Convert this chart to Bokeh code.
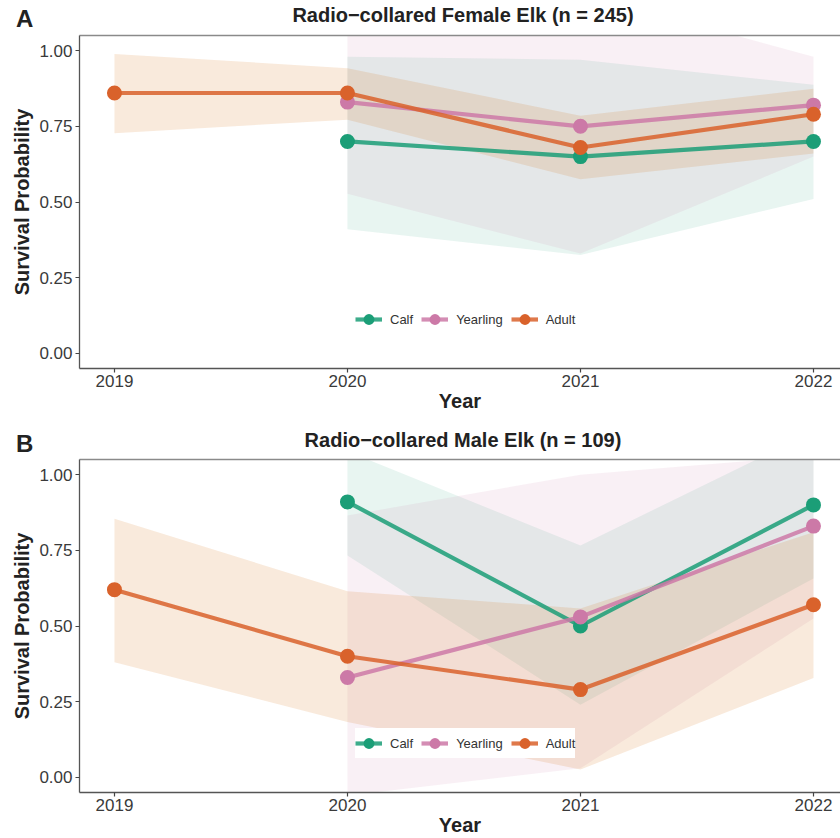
from bokeh.plotting import figure
from bokeh.models import (Range1d, FixedTicker, LinearAxis, Legend,
                          LegendItem, NumeralTickFormatter, Div)
from bokeh.layouts import column
from bokeh.embed import file_html
from bokeh.resources import INLINE

# ---------------- data ----------------
years = [2019, 2020, 2021, 2022]
y_ticks = [0.0, 0.25, 0.5, 0.75, 1.0]
age_classes = ["Calf", "Yearling", "Adult"]
line_colors = ["#1B9E77", "#CC79A7", "#D9622B"]
fill_colors = ["#1B9E77", "#CC79A7", "#D86A08"]
fill_alphas = [0.10, 0.11, 0.14]

# Panel A: females
f_calf_years = [2020, 2021, 2022]
f_calf_est = [0.70, 0.65, 0.70]
f_calf_lo = [0.41, 0.325, 0.51]
f_calf_hi = [0.98, 0.97, 0.887]

f_yearling_years = [2020, 2021, 2022]
f_yearling_est = [0.83, 0.75, 0.82]
f_yearling_lo = [0.527, 0.33, 0.65]
f_yearling_hi = [1.13, 1.19, 0.98]

f_adult_years = [2019, 2020, 2021, 2022]
f_adult_est = [0.86, 0.86, 0.68, 0.79]
f_adult_lo = [0.727, 0.772, 0.575, 0.66]
f_adult_hi = [0.989, 0.942, 0.785, 0.874]

# Panel B: males
m_calf_years = [2020, 2021, 2022]
m_calf_est = [0.91, 0.50, 0.90]
m_calf_lo = [0.733, 0.24, 0.657]
m_calf_hi = [1.077, 0.766, 1.142]

m_yearling_years = [2020, 2021, 2022]
m_yearling_est = [0.33, 0.53, 0.83]
m_yearling_lo = [-0.06, 0.03, 0.525]
m_yearling_hi = [0.865, 1.0, 1.062]

m_adult_years = [2019, 2020, 2021, 2022]
m_adult_est = [0.62, 0.40, 0.29, 0.57]
m_adult_lo = [0.38, 0.183, 0.026, 0.328]
m_adult_hi = [0.854, 0.615, 0.558, 0.81]

FONT = "Liberation Sans"
TEXT_DARK = "#222222"
TICK_TEXT = "#3a3a3a"


def heading(letter, title):
    html = (
        '<div style="position:relative;width:840px;height:30px;'
        "font-family:'Liberation Sans',Arial,sans-serif;font-weight:bold;"
        'color:%s;">'
        '<span style="position:absolute;left:16px;top:7px;font-size:24px;'
        'line-height:24px;">%s</span>'
        '<span style="position:absolute;left:163px;top:5px;width:600px;'
        'text-align:center;font-size:20px;line-height:20px;'
        'white-space:nowrap;">%s</span>'
        '</div>'
    ) % (TEXT_DARK, letter, title)
    return Div(text=html, width=840, height=30, margin=0)


def make_panel(groups, height, top_border, bottom_border):
    x0, x1 = 2018.85, 2022.116
    p = figure(width=840, height=height, output_backend="svg",
               toolbar_location=None, x_range=Range1d(x0, x1),
               y_range=Range1d(-0.05, 1.05),
               min_border_left=79, min_border_right=0,
               min_border_top=top_border, min_border_bottom=bottom_border)
    p.outline_line_color = None
    p.background_fill_color = "white"
    p.border_fill_color = "white"
    p.xgrid.visible = False
    p.ygrid.visible = False

    for ax in (p.xaxis[0], p.yaxis[0]):
        ax.axis_line_color = "#555555"
        ax.axis_line_width = 1.3
        ax.major_tick_line_color = "#444444"
        ax.major_tick_line_width = 1.2
        ax.major_tick_in = 0
        ax.major_tick_out = 4
        ax.minor_tick_line_color = None
        ax.major_label_text_font = FONT
        ax.major_label_text_font_size = "17px"
        ax.major_label_text_color = TICK_TEXT
        ax.axis_label_text_font = FONT
        ax.axis_label_text_font_size = "20px"
        ax.axis_label_text_font_style = "bold"
        ax.axis_label_text_color = TEXT_DARK
    p.xaxis.ticker = FixedTicker(ticks=years)
    p.xaxis.major_label_standoff = 2
    p.xaxis.axis_label = "Year"
    p.xaxis.axis_label_standoff = 0
    p.yaxis.ticker = FixedTicker(ticks=y_ticks)
    p.yaxis.formatter = NumeralTickFormatter(format="0.00")
    p.yaxis.major_label_standoff = 3
    p.yaxis.axis_label = "Survival Probability"
    p.yaxis.axis_label_standoff = 3

    top_ax = LinearAxis(ticker=FixedTicker(ticks=[]))
    top_ax.axis_line_color = "#8a8a8a"
    top_ax.axis_line_width = 1.6
    top_ax.major_tick_line_color = None
    top_ax.minor_tick_line_color = None
    top_ax.major_tick_out = 0
    top_ax.major_tick_in = 0
    top_ax.minor_tick_out = 0
    top_ax.minor_tick_in = 0
    top_ax.major_label_standoff = 0
    p.add_layout(top_ax, "above")

    # confidence ribbons
    for (yrs, est, lo, hi), fc, fa in zip(groups, fill_colors, fill_alphas):
        p.varea(x=yrs, y1=lo, y2=hi, fill_color=fc, fill_alpha=fa)

    line_rs = []
    for (yrs, est, lo, hi), lc in zip(groups, line_colors):
        line_rs.append(p.line(x=yrs, y=est, line_color=lc, line_width=4.2,
                              line_alpha=0.85))
    pt_rs = []
    for (yrs, est, lo, hi), lc in zip(groups, line_colors):
        pt_rs.append(p.scatter(x=yrs, y=est, size=15, marker="circle",
                               fill_color=lc, line_color=lc, line_width=0))

    items = [LegendItem(label=name, renderers=[lr, sr])
             for name, lr, sr in zip(age_classes, line_rs, pt_rs)]
    legend = Legend(items=items, orientation="horizontal", location=(276, 34),
                    glyph_width=27, glyph_height=30, label_standoff=8,
                    spacing=8, padding=15, margin=0,
                    label_text_font=FONT, label_text_font_size="13px",
                    label_text_color="#333333",
                    background_fill_color="white", background_fill_alpha=1.0,
                    border_line_color=None)
    p.add_layout(legend, "center")
    return p


groups_f = [
    (f_calf_years, f_calf_est, f_calf_lo, f_calf_hi),
    (f_yearling_years, f_yearling_est, f_yearling_lo, f_yearling_hi),
    (f_adult_years, f_adult_est, f_adult_lo, f_adult_hi),
]
groups_m = [
    (m_calf_years, m_calf_est, m_calf_lo, m_calf_hi),
    (m_yearling_years, m_yearling_est, m_yearling_lo, m_yearling_hi),
    (m_adult_years, m_adult_est, m_adult_lo, m_adult_hi),
]

h1 = heading("A", "Radio\u2212collared Female Elk (n = 245)")
p1 = make_panel(groups_f, height=395, top_border=5, bottom_border=57)
h2 = heading("B", "Radio\u2212collared Male Elk (n = 109)")
p2 = make_panel(groups_m, height=383, top_border=4, bottom_border=45)

layout = column(h1, p1, h2, p2, spacing=0)
open("out.html", "w").write(file_html(layout, INLINE))
